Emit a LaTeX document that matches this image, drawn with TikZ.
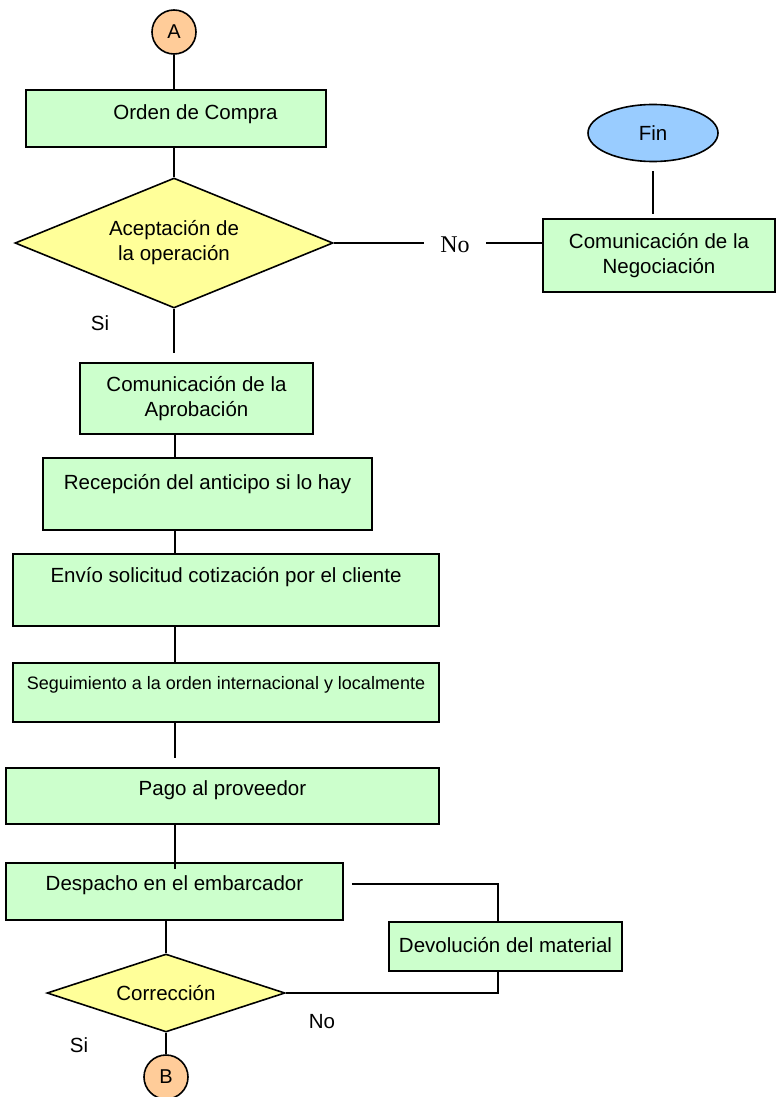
\documentclass[tikz,border=0pt]{standalone}
\usepackage{fontspec}
\setmainfont{Liberation Sans}
\newfontfamily\serifno{Liberation Serif}
\usetikzlibrary{shapes.geometric,calc}
\definecolor{boxgreen}{HTML}{CCFFCC}
\definecolor{diayellow}{HTML}{FFFF99}
\definecolor{finblue}{HTML}{99CCFF}
\definecolor{conorange}{HTML}{FFCC99}
\begin{document}
\begin{tikzpicture}[x=1pt,y=-1pt,line width=1.6pt,
  procbox/.style={draw, fill=boxgreen, inner sep=0pt, text height=15pt, font=\fontsize{20.5}{25}\selectfont},
  twobox/.style={draw, fill=boxgreen, inner sep=0pt, align=center, font=\fontsize{20.5}{25}\selectfont},
  decision/.style={draw, fill=diayellow, diamond, inner sep=0pt, align=center, font=\fontsize{20.5}{25}\selectfont},
  connector/.style={draw, fill=conorange, circle, minimum size=44pt, inner sep=0pt, font=\fontsize{20}{24}\selectfont},
  answer/.style={font=\fontsize{20.5}{25}\selectfont}]
\useasboundingbox (0,0) rectangle (776,1097);
\coordinate (spine) at (175,0);
\node[connector] (conA) at (174,32) {A};
\node[procbox, minimum width=300pt, minimum height=57pt, text depth=13pt] (orden) at (176,118.5) {\hspace{39pt}Orden de Compra};
\node[decision, minimum width=318pt, minimum height=130pt, shape aspect=2.45] (acep) at (174,243) {Aceptación de\\la operación};
\node[inner xsep=16pt, font=\serifno\fontsize{24}{28}\selectfont] (noA) at (455,245) {No};
\node[twobox, minimum width=232pt, minimum height=73pt] (negoc) at (659,255.5) {Comunicación de la\\Negociación};
\node[draw, fill=finblue, ellipse, minimum width=130pt, minimum height=57pt, inner sep=0pt, font=\fontsize{20.5}{25}\selectfont] (fin) at (653,133) {Fin};
\node[answer] (siA) at (100,323) {Si};
\node[twobox, minimum width=233pt, minimum height=71pt] (aprob) at (196.5,398.5) {Comunicación de la\\Aprobación};
\node[procbox, minimum width=329pt, minimum height=72pt, text depth=24pt] (recep) at (207.5,494) {Recepción del anticipo si lo hay};
\node[procbox, minimum width=426pt, minimum height=72pt, text depth=30pt] (envio) at (226,590) {Envío solicitud cotización por el cliente};
\node[procbox, font=\fontsize{18}{22}\selectfont, text height=13pt, minimum width=426pt, minimum height=59pt, text depth=19pt] (segui) at (226,692.5) {Seguimiento a la orden internacional y localmente};
\node[procbox, minimum width=433pt, minimum height=56pt, text depth=16pt] (pago) at (222.5,796) {Pago al proveedor};
\node[procbox, minimum width=337pt, minimum height=57pt, text depth=17pt] (despacho) at (174.5,891.5) {Despacho en el embarcador};
\node[procbox, minimum width=233pt, minimum height=49pt, text depth=3pt] (devol) at (505.5,946.5) {Devolución del material};
\node[decision, minimum width=238pt, minimum height=78pt, shape aspect=3.05] (correc) at (166,993) {Corrección};
\node[answer] (noB) at (322,1022) {No};
\node[answer] (siB) at (79,1045) {Si};
\node[connector] (conB) at (166,1077) {B};
\draw (conA.south) -- (conA.south |- orden.north);
\draw (acep.north |- orden.south) -- (acep.north);
\draw (acep.east) -- (acep.east -| noA.west);
\draw (noA.east |- acep.east) -- (negoc.west |- acep.east);
\draw ($(fin.south)+(0,9)$) -- ($(fin.south |- negoc.north)+(0,-4)$);
\draw (acep.south) -- ($(acep.south |- aprob.north)+(0,-9)$);
\draw (spine |- aprob.south) -- (spine |- recep.north);
\draw (spine |- recep.south) -- (spine |- envio.north);
\draw (spine |- envio.south) -- (spine |- segui.north);
\draw (spine |- segui.south) -- ($(spine |- pago.north)+(0,-9)$);
\draw (spine |- pago.south) -- ($(spine |- despacho.north)+(0,7)$);
\draw (correc.north |- despacho.south) -- (correc.north);
\draw ($(despacho.east)+(8,-7.5)$) -| ($(devol.north)+(-7.5,0)$);
\draw ($(devol.south)+(-7.5,0)$) |- (correc.east);
\draw (correc.south) -- (conB.north);
\end{tikzpicture}
\end{document}
